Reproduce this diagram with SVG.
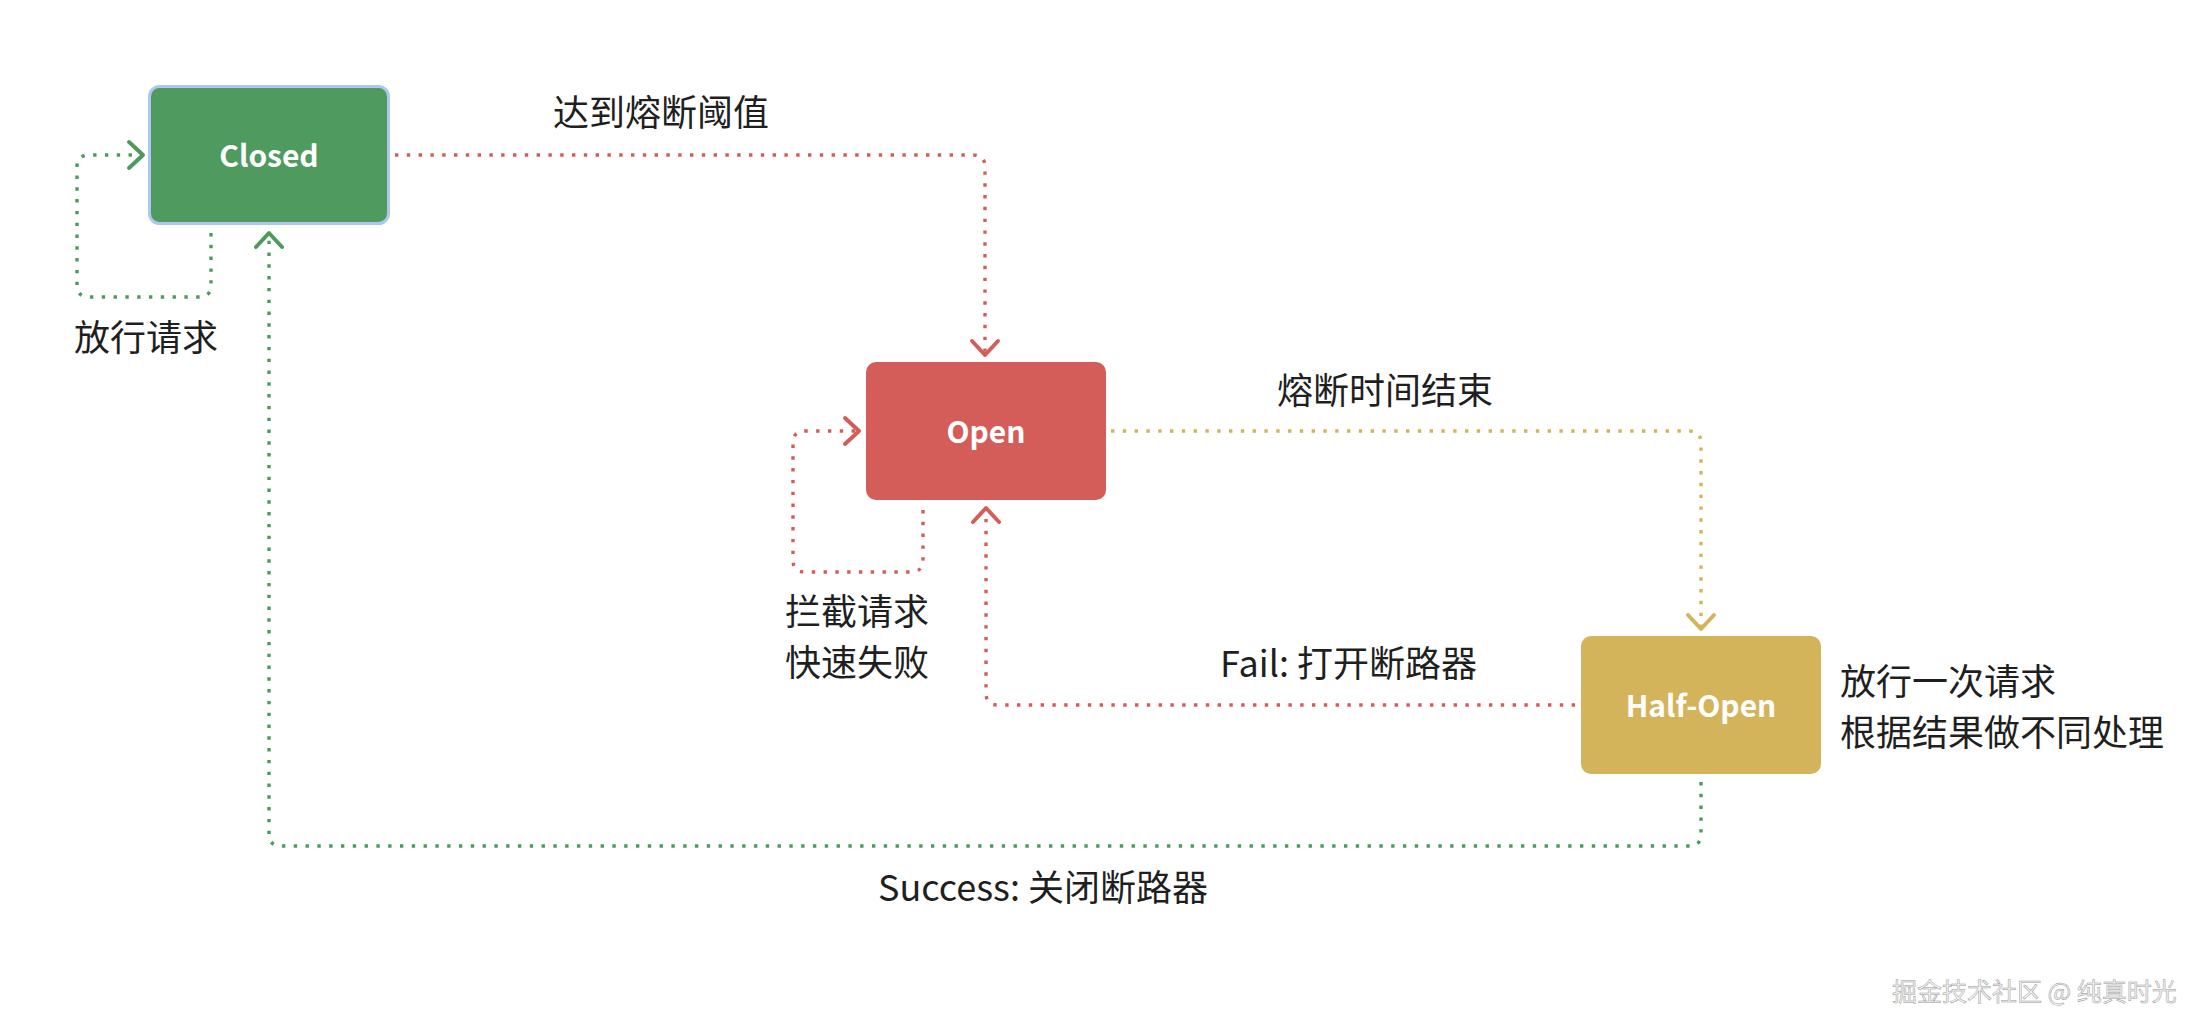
<svg xmlns="http://www.w3.org/2000/svg" width="2206" height="1034" viewBox="0 0 2206 1034">
  <style>
    .node-label { font-family: "Noto Sans CJK SC", "Noto Sans", sans-serif; font-weight: 700; font-size: 30px; fill: #ffffff; text-anchor: middle; }
    .label { font-family: "Noto Sans CJK SC", "Noto Sans", sans-serif; font-size: 36px; fill: #1f1f1f; }
    .conn { fill: none; stroke-width: 3.4; stroke-dasharray: 3.4 8.4; }
    .red { stroke: #d45d59; }
    .yellow { stroke: #d4b45a; }
    .green { stroke: #4e9a5e; }
    .wm { font-family: "Noto Sans CJK SC", sans-serif; font-size: 25px; fill: #f4f4f4; stroke: #9a9a9a; stroke-width: 0.5; }
  </style>
  <defs>
    <marker id="arr-red" markerUnits="userSpaceOnUse" markerWidth="40" markerHeight="40" viewBox="-20 -20 40 40" refX="0" refY="0" orient="auto">
      <path d="M-14,-13 L0,0 L-14,13" fill="none" stroke="#d45d59" stroke-width="4" stroke-linecap="round" stroke-linejoin="round"/>
    </marker>
    <marker id="arr-yellow" markerUnits="userSpaceOnUse" markerWidth="40" markerHeight="40" viewBox="-20 -20 40 40" refX="0" refY="0" orient="auto">
      <path d="M-14,-13 L0,0 L-14,13" fill="none" stroke="#d4b45a" stroke-width="4" stroke-linecap="round" stroke-linejoin="round"/>
    </marker>
    <marker id="arr-green" markerUnits="userSpaceOnUse" markerWidth="40" markerHeight="40" viewBox="-20 -20 40 40" refX="0" refY="0" orient="auto">
      <path d="M-14,-13 L0,0 L-14,13" fill="none" stroke="#4e9a5e" stroke-width="4" stroke-linecap="round" stroke-linejoin="round"/>
    </marker>
  </defs>
  <rect width="2206" height="1034" fill="#ffffff"/>

  <g id="connectors">
    <path class="conn red" d="M395,155 H973 Q985,155 985,167 V355" marker-end="url(#arr-red)"/>
    <path class="conn yellow" d="M1111,431 H1689 Q1701,431 1701,443 V629" marker-end="url(#arr-yellow)"/>
    <path class="conn red" d="M1575,705 H998 Q986,705 986,693 V508" marker-end="url(#arr-red)"/>
    <path class="conn green" d="M1701,782 V834 Q1701,846 1689,846 H281 Q269,846 269,834 V233" marker-end="url(#arr-green)"/>
    <path class="conn green" d="M211,233 V285 Q211,297 199,297 H89 Q77,297 77,285 V167 Q77,155 89,155 H143" marker-end="url(#arr-green)"/>
    <path class="conn red" d="M923,510 V560 Q923,572 911,572 H805 Q793,572 793,560 V443 Q793,431 805,431 H859" marker-end="url(#arr-red)"/>
  </g>

  <g id="node-closed">
    <rect x="149.5" y="86.5" width="239" height="137" rx="10" fill="#4f9a5f" stroke="#aec6f4" stroke-width="3"/>
    <text class="node-label" x="269" y="167">Closed</text>
  </g>
  <g id="node-open">
    <rect x="866" y="362" width="240" height="138" rx="10" fill="#d45d59"/>
    <text class="node-label" x="986" y="443">Open</text>
  </g>
  <g id="node-halfopen">
    <rect x="1581" y="636" width="240" height="138" rx="10" fill="#d4b45a"/>
    <text class="node-label" x="1701" y="717">Half-Open</text>
  </g>

  <g id="labels">
    <text class="label" x="553" y="126">达到熔断阈值</text>
    <text class="label" x="74" y="351">放行请求</text>
    <text class="label" x="785" y="625">拦截请求</text>
    <text class="label" x="785" y="676">快速失败</text>
    <text class="label" x="1277" y="404">熔断时间结束</text>
    <text class="label" x="1220" y="677">Fail: 打开断路器</text>
    <text class="label" x="1840" y="695">放行一次请求</text>
    <text class="label" x="1840" y="746">根据结果做不同处理</text>
    <text class="label" x="878" y="901">Success: 关闭断路器</text>
  </g>

  <text class="wm" x="1892" y="1001">掘金技术社区 @ 纯真时光</text>
</svg>
